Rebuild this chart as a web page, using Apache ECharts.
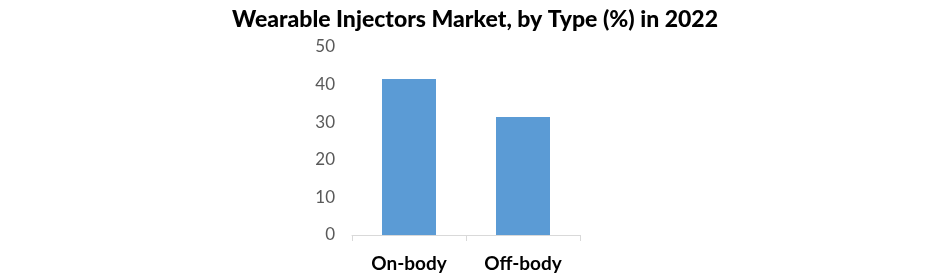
<!DOCTYPE html>
<html><head><meta charset="utf-8">
<script src="https://cdn.jsdelivr.net/npm/echarts@6/dist/echarts.min.js"></script>
<style>html,body{margin:0;padding:0;background:#fff}#c{width:941px;height:274px}</style>
</head><body><div id="c"></div>
<script>
const titleText = "Wearable Injectors Market, by Type (%) in 2022";
const categories = ["On-body", "Off-body"];
const values = [41.5, 31.4];
const yTicks = [0, 10, 20, 30, 40, 50];

const chart = echarts.init(document.getElementById('c'));
chart.setOption({
  animation: false,
  title: {
    text: titleText, left: 470, top: 3, textAlign: 'center',
    textStyle: {fontFamily: 'Lato', fontWeight: 900, fontSize: 23, color: '#000'}
  },
  grid: {left: 352, right: 361, top: 47, bottom: 39},
  xAxis: {
    type: 'category', data: categories,
    axisLine: {lineStyle: {color: '#d9d9d9'}},
    axisTick: {show: true, length: 6, lineStyle: {color: '#d9d9d9'}},
    axisLabel: {fontFamily: 'Lato', fontWeight: 'bold', fontSize: 19, color: '#000', margin: 19}
  },
  yAxis: {
    type: 'value', min: yTicks[0], max: yTicks[yTicks.length-1], interval: 10,
    splitLine: {show: false}, axisLine: {show: false}, axisTick: {show: false},
    axisLabel: {fontFamily: 'Lato', fontSize: 17, color: '#595959', margin: 17}
  },
  series: [{
    type: 'bar', data: values, barWidth: 54,
    itemStyle: {color: '#5b9bd5'}
  }]
});
</script></body></html>
